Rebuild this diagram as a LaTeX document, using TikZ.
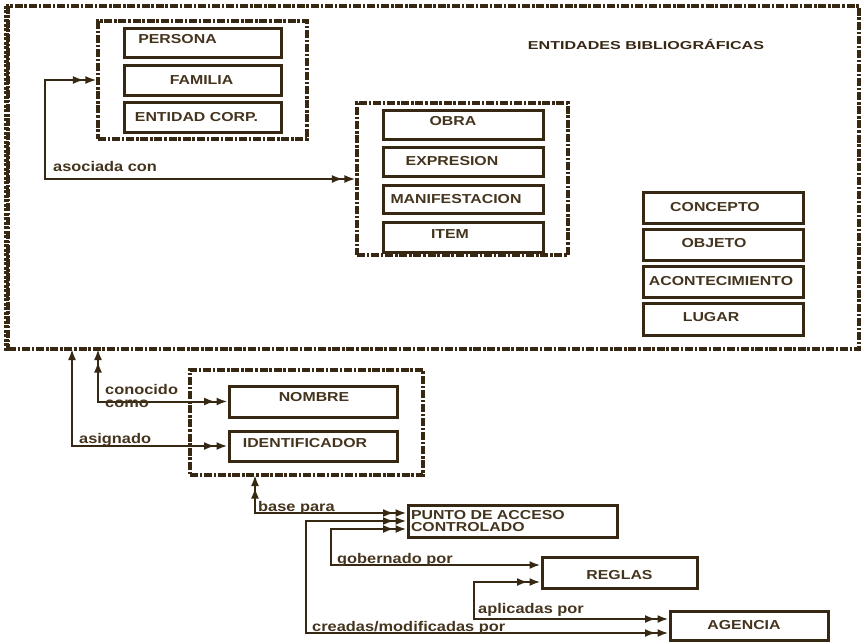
\documentclass[tikz,border=0pt]{standalone}
\usepackage{fontspec}
\setmainfont{Liberation Sans}
\newfontfamily\lblfont[FakeStretch=1.22]{Liberation Sans}
\newfontfamily\labfont[FakeStretch=1.17]{Liberation Sans}
\newfontfamily\ttlfont[FakeStretch=1.4]{Liberation Sans}
\usetikzlibrary{arrows.meta,calc}
\definecolor{lc}{RGB}{55,40,20}
\definecolor{tc}{RGB}{68,52,30}
\tikzset{
  box/.style={draw=lc, line width=3pt, inner sep=0pt, text=tc, font=\lblfont\bfseries\fontsize{13}{12.5}\selectfont},
  grp/.style={draw=lc, line width=3.2pt, inner sep=0pt, dash pattern=on 8pt off 1.8pt on 2.5pt off 1.8pt},
  con/.style={draw=lc, line width=2pt},
  lab/.style={text=tc, inner sep=0pt, font=\labfont\bfseries\fontsize{14}{13}\selectfont},
  ttl/.style={text=lc, inner sep=0pt, font=\ttlfont\bfseries\fontsize{11.5}{12}\selectfont},
  hh/.tip={Latex[length=11pt,width=8pt]},
  dd/.tip={Latex[length=11pt,width=8pt,sep=1.5pt] Latex[length=11pt,width=8pt]},
}
\newcommand\bx[8][]{\node[box,#1,minimum width={#5-#3},minimum height={#6-#4}] (#2) at ({(#3+#5)/2},{(#4+#6)/2}) {\hspace*{#7}#8};}
\begin{document}
\begin{tikzpicture}[x=1pt,y=-1pt]
\useasboundingbox (0,0) rectangle (861,641);
% outer frame and groups
\node[grp, line width=3.5pt, minimum width=851, minimum height=343] (outer) at (433.5,177.5) {};
\draw[grp, line width=4.5pt, dash pattern=on 3pt off 1.5pt] (outer.south west) -- (outer.north west);
\node[ttl] (title) at (646,44.5) {ENTIDADES BIBLIOGRÁFICAS};
\node[grp, minimum width=209, minimum height=118] (grpA) at (202.5,80) {};
\node[grp, minimum width=211, minimum height=152] (grpB) at (462.5,179) {};
\node[grp, minimum width=233, minimum height=105] (grpC) at (306.5,422.5) {};
% boxes
\bx[text depth=8pt]{persona}{124}{28}{281}{57}{-50pt}{PERSONA}
\bx{familia}{124}{65}{281}{95}{-2pt}{FAMILIA}
\bx{entidad}{124}{102}{281}{132}{-12pt}{ENTIDAD CORP.}
\bx[text depth=8pt]{obra}{383}{110}{543}{139}{-20pt}{OBRA}
\bx{expresion}{383}{147}{543}{176}{-22pt}{EXPRESION}
\bx{manif}{383}{185}{543}{213}{-14pt}{MANIFESTACION}
\bx[text depth=6pt]{item}{383}{222}{543}{252}{-26pt}{ITEM}
\bx{concepto}{643}{192}{803}{223}{-16pt}{CONCEPTO}
\bx[text depth=4pt]{objeto}{643}{229}{803}{260}{-18pt}{OBJETO}
\bx{acont}{643}{266}{803}{297}{-4pt}{ACONTECIMIENTO}
\bx[text depth=4pt]{lugar}{643}{303}{803}{335}{-24pt}{LUGAR}
\bx[text depth=9pt]{nombre}{229}{386}{397}{417}{2pt}{NOMBRE}
\bx[text depth=6pt]{ident}{229}{431}{397}{461}{-16pt}{IDENTIFICADOR}
\bx[text width=203pt, align=left, inner xsep=3pt]{punto}{408}{505}{617}{537}{0pt}{PUNTO DE ACCESO\\CONTROLADO}
\bx[text height=14pt]{reglas}{542}{557}{697}{588}{0pt}{REGLAS}
\bx{agencia}{670}{611}{828}{640}{-10pt}{AGENCIA}
% free ends on frames
\coordinate (cK) at (98,349);
\coordinate (cA) at (72,349);
\coordinate (cB) at (255,475);
% connectors
\draw[con,{dd}-{dd}] (grpA.west) -- ++(-51,0) |- (grpB.west);
\draw[con,{dd}-{dd}] (cK) |- (nombre.west);
\draw[con,{hh}-{dd}] (cA) |- (ident.west);
\draw[con,{dd}-{dd}] (cB) |- ([yshift=8pt]punto.west);
\draw[con,{dd}-{dd}] (punto.west) -- ++(-101,0) |- ([yshift=-7.5pt]agencia.west);
\draw[con,{dd}-{hh}] ([yshift=-8pt]punto.west) -- ++(-76,0) |- ([yshift=7.5pt]reglas.west);
\draw[con,{dd}-{dd}] ([yshift=-9.5pt]reglas.west) -- ++(-67,0) |- ([yshift=6.5pt]agencia.west);
% labels
\node[lab,anchor=base west] (lAsoc) at (53,171) {asociada con};
\node[lab,anchor=west,align=left] (lCon) at (105,396.4) {conocido\\como};
\node[lab,anchor=base west] (lAsig) at (79,443) {asignado};
\node[lab,anchor=base west] (lBase) at (258,511) {base para};
\node[lab,anchor=base west] (lGob) at (337,563) {gobernado por};
\node[lab,anchor=base west] (lApl) at (478,613) {aplicadas por};
\node[lab,anchor=base west] (lCre) at (312,631) {creadas/modificadas por};
\end{tikzpicture}
\end{document}
